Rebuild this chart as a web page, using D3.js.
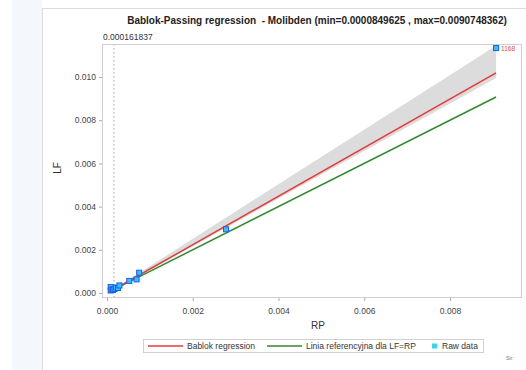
<!DOCTYPE html>
<html lang="pl">
<head>
<meta charset="UTF-8">
<title>Bablok-Passing regression</title>
<script src="https://d3js.org/d3.v7.min.js"></script>
<style>
  body { margin: 0; background: #fff; }
  svg { display: block; font-family: "Liberation Sans", Arial, sans-serif; }
</style>
</head>
<body>
<svg id="chart" width="526" height="370"></svg>
<script>
    // dane
    var rpValues = [0.000085, 0.000085, 0.000105, 0.00014, 0.000175, 0.00021, 0.000257, 0.00029, 0.00052, 0.00069, 0.00075, 0.002775, 0.0090748362];
    var lfValues = [0.000116, 0.00028, 0.00016, 0.00014, 0.000185, 0.000255, 0.00023, 0.00035, 0.00056, 0.00063, 0.00094, 0.00295, 0.01134];
    var pointLabels = ["", "", "", "", "", "", "", "", "", "", "", "", "1168"];

    var lineX = [0.0000849625, 0.0090748362];
    var bablokY = [0.00008, 0.01019];     // linia regresji
    var refY = [0.0000849625, 0.0090748362]; // LF = RP
    var ciUpperY = [0.00009, 0.01145];
    var ciLowerY = [0.00007, 0.00995];
    var medianRP = 0.000161837;

    var xTicks = [0, 0.002, 0.004, 0.006, 0.008];
    var yTicks = [0, 0.002, 0.004, 0.006, 0.008, 0.010];

    var legendNames = ["Bablok regression", "Linia referencyjna dla LF=RP", "Raw data"];
    var legendColors = ["#e8393a", "#2f8a2f", "#33d6f0"];

    var svg = d3.select('#chart');

    // tło strony
    svg.append('rect').attr('x', 12).attr('y', 0).attr('width', 30).attr('height', 370).attr('fill', '#f4f8fd');
    svg.append('rect').attr('x', 42.5).attr('y', 8.5).attr('width', 490).attr('height', 370)
        .attr('fill', '#fff').attr('stroke', '#dcdcdc');

    var frame = {left: 102, top: 44, right: 522, bottom: 298};

    var x = d3.scaleLinear().domain([-0.0001166, 0.0096793]).range([frame.left, frame.right]);
    var y = d3.scaleLinear().domain([-0.0002315, 0.0115278]).range([frame.bottom, frame.top]);

    svg.append('defs').append('clipPath').attr('id', 'clip')
        .append('rect').attr('x', frame.left).attr('y', frame.top)
        .attr('width', frame.right - frame.left).attr('height', frame.bottom - frame.top);

    var plot = svg.append('g').attr('clip-path', 'url(#clip)');

    // przedział ufności
    var band = [[lineX[0], ciUpperY[0]], [lineX[1], ciUpperY[1]], [lineX[1], ciLowerY[1]], [lineX[0], ciLowerY[0]]];
    plot.append('path')
        .attr('d', 'M' + band.map(d => x(d[0]) + ',' + y(d[1])).join('L') + 'Z')
        .attr('fill', '#dcdcdc');

    // linia mediany RP
    plot.append('line')
        .attr('x1', x(medianRP)).attr('x2', x(medianRP))
        .attr('y1', frame.top).attr('y2', frame.bottom)
        .attr('stroke', '#a0a0a0').attr('stroke-width', 1).attr('stroke-dasharray', '1.5,2.5');

    plot.append('line')
        .attr('x1', x(lineX[0])).attr('y1', y(refY[0]))
        .attr('x2', x(lineX[1])).attr('y2', y(refY[1]))
        .attr('stroke', legendColors[1]).attr('stroke-width', 1.5);

    plot.append('line')
        .attr('x1', x(lineX[0])).attr('y1', y(bablokY[0]))
        .attr('x2', x(lineX[1])).attr('y2', y(bablokY[1]))
        .attr('stroke', legendColors[0]).attr('stroke-width', 1.5);

    // punkty
    svg.append('g').selectAll('rect')
        .data(rpValues)
        .enter().append('rect')
        .attr('x', d => x(d) - 2.5)
        .attr('y', (d, i) => y(lfValues[i]) - 2.5)
        .attr('width', 5).attr('height', 5)
        .attr('fill', '#2fc4f5').attr('stroke', '#1f5cf0').attr('stroke-width', 1);

    svg.append('g').selectAll('text')
        .data(pointLabels)
        .enter().append('text')
        .attr('x', (d, i) => x(rpValues[i]) + 5)
        .attr('y', (d, i) => y(lfValues[i]) + 3)
        .attr('font-size', 6.5).attr('fill', '#d9534f')
        .text(d => d);

    // ramka
    svg.append('rect')
        .attr('x', frame.left + 0.5).attr('y', frame.top + 0.5)
        .attr('width', frame.right - frame.left - 1).attr('height', frame.bottom - frame.top - 1)
        .attr('fill', 'none').attr('stroke', '#cfcfcf');

    // osie
    var xAxis = svg.append('g').attr('transform', 'translate(0,' + frame.bottom + ')')
        .call(d3.axisBottom(x).tickValues(xTicks).tickFormat(d3.format('.3f')).tickSize(3).tickSizeOuter(0));
    var yAxis = svg.append('g').attr('transform', 'translate(' + frame.left + ',0)')
        .call(d3.axisLeft(y).tickValues(yTicks).tickFormat(d3.format('.3f')).tickSize(3).tickSizeOuter(0));
    [xAxis, yAxis].forEach(function (a) {
        a.select('.domain').remove();
        a.selectAll('line').attr('stroke', '#aaa');
        a.selectAll('text').attr('font-size', 8.5).attr('fill', '#444').attr('font-family', '"Liberation Sans", Arial, sans-serif');
    });
    xAxis.selectAll('text').attr('dy', '1.2em');

    svg.append('text').attr('x', 318).attr('y', 329).attr('text-anchor', 'middle')
        .attr('font-size', 10).attr('fill', '#333').text('RP');
    svg.append('text').attr('transform', 'translate(61,168) rotate(-90)').attr('text-anchor', 'middle')
        .attr('font-size', 10).attr('fill', '#333').text('LF');

    // tytuł
    svg.append('text').attr('x', 317).attr('y', 24).attr('text-anchor', 'middle')
        .attr('font-size', 10).attr('font-weight', 'bold').attr('fill', '#222')
        .style('white-space', 'pre')
        .text('Bablok-Passing regression  - Molibden (min=0.0000849625 , max=0.0090748362)');
    svg.append('text').attr('x', 103).attr('y', 40)
        .attr('font-size', 8.5).attr('fill', '#333').text(d3.format('.9f')(medianRP));

    // legenda
    var legend = svg.append('g');
    legend.append('rect').attr('x', 143.5).attr('y', 339.5).attr('width', 340).attr('height', 13)
        .attr('fill', '#fff').attr('stroke', '#d0d0d0');
    var lx = [148, 267, 432];
    legendNames.forEach(function (name, i) {
        if (i < 2) {
            legend.append('line').attr('x1', lx[i]).attr('x2', lx[i] + 35)
                .attr('y1', 346).attr('y2', 346)
                .attr('stroke', legendColors[i]).attr('stroke-width', 1.5);
        } else {
            legend.append('rect').attr('x', lx[i]).attr('y', 343.5).attr('width', 5).attr('height', 5)
                .attr('fill', legendColors[i]);
        }
        legend.append('text').attr('x', i < 2 ? lx[i] + 39 : lx[i] + 10).attr('y', 349)
            .attr('font-size', 8.5).attr('fill', '#333').text(name);
    });

    svg.append('text').attr('x', 506).attr('y', 360).attr('font-size', 5).attr('fill', '#777').text('Str:');
</script>
</body>
</html>
